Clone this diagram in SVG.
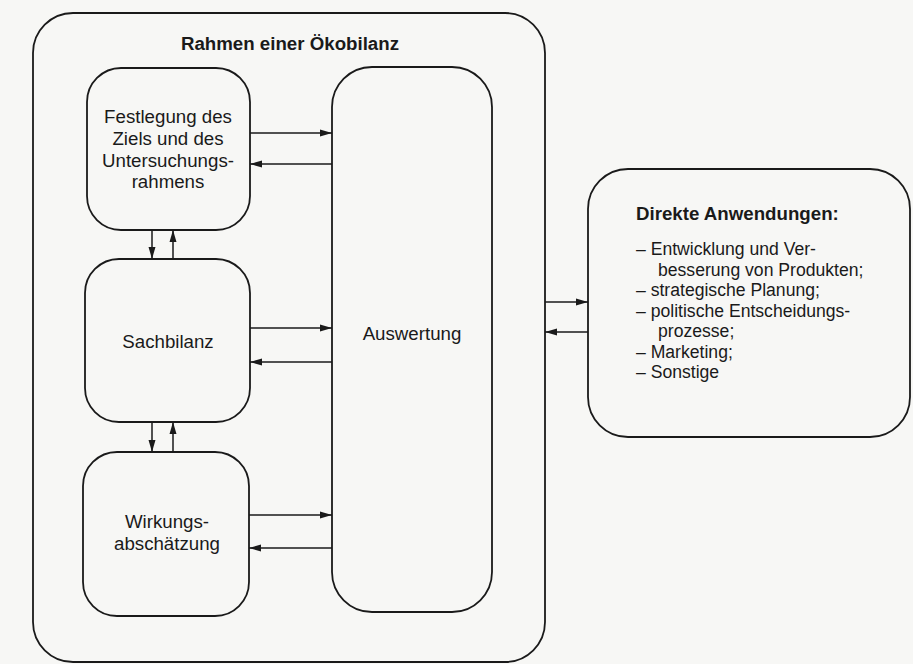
<svg xmlns="http://www.w3.org/2000/svg" width="913" height="664" viewBox="0 0 913 664">
<defs>
<marker id="ah" viewBox="0 0 12 8" refX="12" refY="4" markerWidth="12" markerHeight="8" markerUnits="userSpaceOnUse" orient="auto">
<path d="M0,0.5 L12,4 L0,7.5 Z" fill="#1a1a1a"/>
</marker>
<style>
.box{fill:none;stroke:#1a1a1a;stroke-width:1.8}
.t{font-family:"Liberation Sans",Arial,sans-serif;font-size:18.7px;fill:#1a1a1a}
.l{font-size:17.6px}
.c{text-anchor:middle}
.b{font-weight:bold}
.ln{stroke:#1a1a1a;stroke-width:1.5;fill:none;marker-end:url(#ah)}
</style>
</defs>
<rect width="913" height="664" fill="#f7f7f5"/>
<g id="frame">
<rect class="box" x="33" y="13" width="512" height="649" rx="40" ry="40"/>
<text class="t c b" x="290" y="50">Rahmen einer Ökobilanz</text>
</g>
<g id="festlegung">
<rect class="box" x="87" y="68" width="163" height="162" rx="34" ry="34"/>
<text class="t c" x="168" y="123">Festlegung des</text>
<text class="t c" x="168" y="145">Ziels und des</text>
<text class="t c" x="168" y="167">Untersuchungs-</text>
<text class="t c" x="168" y="188">rahmens</text>
</g>
<g id="sachbilanz">
<rect class="box" x="85" y="259" width="165" height="163" rx="34" ry="34"/>
<text class="t c" x="168" y="348">Sachbilanz</text>
</g>
<g id="wirkung">
<rect class="box" x="83" y="452" width="166" height="164" rx="34" ry="34"/>
<text class="t c" x="167" y="528">Wirkungs-</text>
<text class="t c" x="167" y="550">abschätzung</text>
</g>
<g id="auswertung">
<rect class="box" x="332" y="67" width="160" height="545" rx="40" ry="40"/>
<text class="t c" x="412" y="340">Auswertung</text>
</g>
<g id="anwendungen">
<rect class="box" x="588" y="169" width="322" height="268" rx="40" ry="40"/>
<text class="t b" x="636" y="220">Direkte Anwendungen:</text>
<text class="t l" x="636" y="255">– Entwicklung und Ver-</text>
<text class="t l" x="658" y="275.5">besserung von Produkten;</text>
<text class="t l" x="636" y="296">– strategische Planung;</text>
<text class="t l" x="636" y="316.5">– politische Entscheidungs-</text>
<text class="t l" x="658" y="337">prozesse;</text>
<text class="t l" x="636" y="357.5">– Marketing;</text>
<text class="t l" x="636" y="378">– Sonstige</text>
</g>
<g id="connectors">
<line class="ln" x1="250" y1="133" x2="332" y2="133"/>
<line class="ln" x1="332" y1="164" x2="250" y2="164"/>
<line class="ln" x1="250" y1="328" x2="332" y2="328"/>
<line class="ln" x1="332" y1="362" x2="250" y2="362"/>
<line class="ln" x1="249" y1="515" x2="332" y2="515"/>
<line class="ln" x1="332" y1="548" x2="249" y2="548"/>
<line class="ln" x1="152" y1="230" x2="152" y2="259"/>
<line class="ln" x1="173" y1="259" x2="173" y2="230"/>
<line class="ln" x1="152" y1="422" x2="152" y2="452"/>
<line class="ln" x1="173" y1="452" x2="173" y2="422"/>
<line class="ln" x1="545" y1="302" x2="588" y2="302"/>
<line class="ln" x1="588" y1="332" x2="545" y2="332"/>
</g>
</svg>
